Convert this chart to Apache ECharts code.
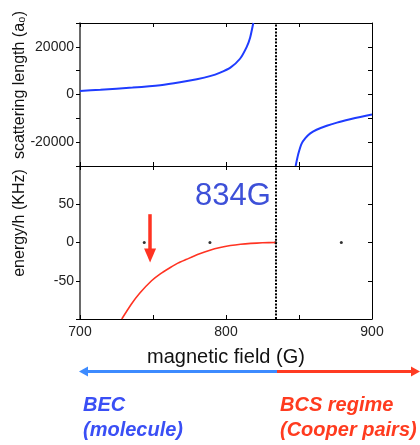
<!DOCTYPE html>
<html>
<head>
<meta charset="utf-8">
<script src="https://cdn.jsdelivr.net/npm/echarts@6/dist/echarts.min.js"></script>
<style>html,body{margin:0;padding:0;background:#fff;}#c{width:420px;height:445px;}</style>
</head>
<body>
<div id="c"></div>
<script>
// ---- data ----
const resonanceField = 834;
const scatLeftField = [700, 714, 736, 755, 768.5, 780, 789, 796, 803, 809.6, 814.2, 816.5, 818.7];
const scatLeftValue = [1500, 2000, 2900, 3900, 5100, 6400, 7700, 9200, 11300, 15000, 20000, 23800, 30000];
const scatRightField = [847.7, 849.5, 851.8, 854.5, 857.5, 862, 869, 876, 885, 892, 900];
const scatRightValue = [-30000, -25000, -20600, -18200, -16400, -14800, -13100, -11800, -10400, -9400, -8400];
const energyField = [728.6, 735, 741, 749, 755, 761.6, 767, 773, 781, 789, 796, 803, 810, 817, 825, 834];
const energyValue = [-100, -81, -66, -50, -41, -33, -27, -22, -15.5, -10, -6.5, -4, -2.3, -1.2, -0.4, 0];
const zeroDotField = [744, 789, 834, 879];
const arrowField = 748;
const arrowFrom = 37;
const arrowTo = -17;
const xTickLabels = [700, 800, 900];
const scatTickLabels = [-20000, 0, 20000];
const energyTickLabels = [-50, 0, 50];

const FONT = '"Liberation Sans", Arial, sans-serif';
const zip = (a, b) => a.map((v, i) => [v, b[i]]);

function xAx(grid, pos, labels) {
  return {
    type: 'value', gridIndex: grid, position: pos, min: 700, max: 900, interval: 50,
    axisLine: { show: true, onZero: false, lineStyle: { color: '#000', width: 1 } },
    axisTick: { show: true, inside: true, length: 4, lineStyle: { color: '#000' } },
    axisLabel: labels ? {
      show: true, margin: 6, color: '#222', fontSize: 14, fontFamily: FONT,
      showMinLabel: true, showMaxLabel: true,
      formatter: v => xTickLabels.includes(v) ? String(v) : ''
    } : { show: false },
    splitLine: { show: false }
  };
}
function yAx(grid, pos, min, max, interval, labels) {
  const left = pos === 'left';
  return {
    type: 'value', gridIndex: grid, position: pos, min: min, max: max, interval: interval,
    axisLine: { show: true, onZero: false, lineStyle: { color: left ? '#444' : '#000', width: left ? 1.6 : 1 } },
    axisTick: { show: true, inside: !left, length: 4, lineStyle: { color: '#000' } },
    axisLabel: labels ? {
      show: true, margin: 6, color: '#222', fontSize: 14, fontFamily: FONT,
      formatter: v => labels.includes(v) ? String(v) : ''
    } : { show: false },
    splitLine: { show: false }
  };
}

const dotted = { color: '#000', width: 2, type: [2, 1.4] };
const curve = { showSymbol: false, smooth: 0.2 };

const option = {
  animation: false,
  backgroundColor: '#fff',
  grid: [
    { left: 80, top: 23, width: 292, height: 143 },
    { left: 80, top: 166, width: 292, height: 153 }
  ],
  xAxis: [
    xAx(0, 'bottom', false), xAx(0, 'top', false),
    Object.assign(xAx(1, 'bottom', true), {
      name: 'magnetic field (G)', nameLocation: 'middle', nameGap: 28,
      nameTextStyle: { fontSize: 20, color: '#111', fontFamily: FONT }
    }),
    xAx(1, 'top', false)
  ],
  yAxis: [
    yAx(0, 'left', -30000, 30000, 10000, scatTickLabels),
    yAx(0, 'right', -30000, 30000, 10000, null),
    yAx(1, 'left', -100, 100, 50, energyTickLabels),
    yAx(1, 'right', -100, 100, 50, null)
  ],
  series: [
    Object.assign({
      type: 'line', xAxisIndex: 0, yAxisIndex: 0, data: zip(scatLeftField, scatLeftValue),
      lineStyle: { color: '#1f3cff', width: 2 },
      markLine: { silent: true, symbol: 'none', label: { show: false }, lineStyle: dotted, data: [{ xAxis: resonanceField }] }
    }, curve),
    Object.assign({
      type: 'line', xAxisIndex: 0, yAxisIndex: 0, data: zip(scatRightField, scatRightValue),
      lineStyle: { color: '#1f3cff', width: 2 }
    }, curve),
    Object.assign({
      type: 'line', xAxisIndex: 2, yAxisIndex: 2, data: zip(energyField, energyValue),
      lineStyle: { color: '#ff3322', width: 1.6 },
      markLine: { silent: true, symbol: 'none', label: { show: false }, lineStyle: dotted, data: [{ xAxis: resonanceField }] }
    }, curve),
    {
      type: 'scatter', xAxisIndex: 2, yAxisIndex: 2, data: zeroDotField.map(v => [v, 0]),
      symbolSize: 3, itemStyle: { color: '#000' }
    },
    {
      type: 'line', xAxisIndex: 2, yAxisIndex: 2, data: [],
      markLine: {
        silent: true, symbol: ['none', 'triangle'], symbolSize: [12, 14], label: { show: false },
        lineStyle: { color: '#ff3322', width: 3.5, type: 'solid' },
        data: [[{ coord: [arrowField, arrowFrom] }, { coord: [arrowField, arrowTo] }]]
      }
    }
  ],
  graphic: [
    { type: 'text', x: 20, y: 85, rotation: Math.PI / 2,
      style: { text: 'scattering length (a₀)', font: '16px ' + FONT, fill: '#111', align: 'center', verticalAlign: 'middle' } },
    { type: 'text', x: 20, y: 223, rotation: Math.PI / 2,
      style: { text: 'energy/h (KHz)', font: '16px ' + FONT, fill: '#111', align: 'center', verticalAlign: 'middle' } },
    { type: 'text', x: 233, y: 196,
      style: { text: '834G', font: '31px ' + FONT, fill: '#3d50d8', align: 'center', verticalAlign: 'middle' } },
    { type: 'line', shape: { x1: 86, y1: 371.5, x2: 277, y2: 371.5 }, style: { stroke: '#3d8bff', lineWidth: 3 } },
    { type: 'polygon', shape: { points: [[79, 371.5], [88, 366.5], [88, 376.5]] }, style: { fill: '#3d8bff' } },
    { type: 'line', shape: { x1: 277, y1: 371.5, x2: 412, y2: 371.5 }, style: { stroke: '#ff3b22', lineWidth: 3 } },
    { type: 'polygon', shape: { points: [[420, 371.5], [411, 366.5], [411, 376.5]] }, style: { fill: '#ff3b22' } },
    { type: 'text', x: 83, y: 405, style: { text: 'BEC', font: 'italic bold 20px ' + FONT, fill: '#3a4ff5', verticalAlign: 'middle' } },
    { type: 'text', x: 83, y: 430, style: { text: '(molecule)', font: 'italic bold 20px ' + FONT, fill: '#3a4ff5', verticalAlign: 'middle' } },
    { type: 'text', x: 280, y: 405, style: { text: 'BCS regime', font: 'italic bold 20px ' + FONT, fill: '#ff3b1f', verticalAlign: 'middle' } },
    { type: 'text', x: 280, y: 430, style: { text: '(Cooper pairs)', font: 'italic bold 20px ' + FONT, fill: '#ff3b1f', verticalAlign: 'middle' } }
  ]
};

const chart = echarts.init(document.getElementById('c'), null, { renderer: 'canvas' });
chart.setOption(option);
</script>
</body>
</html>
